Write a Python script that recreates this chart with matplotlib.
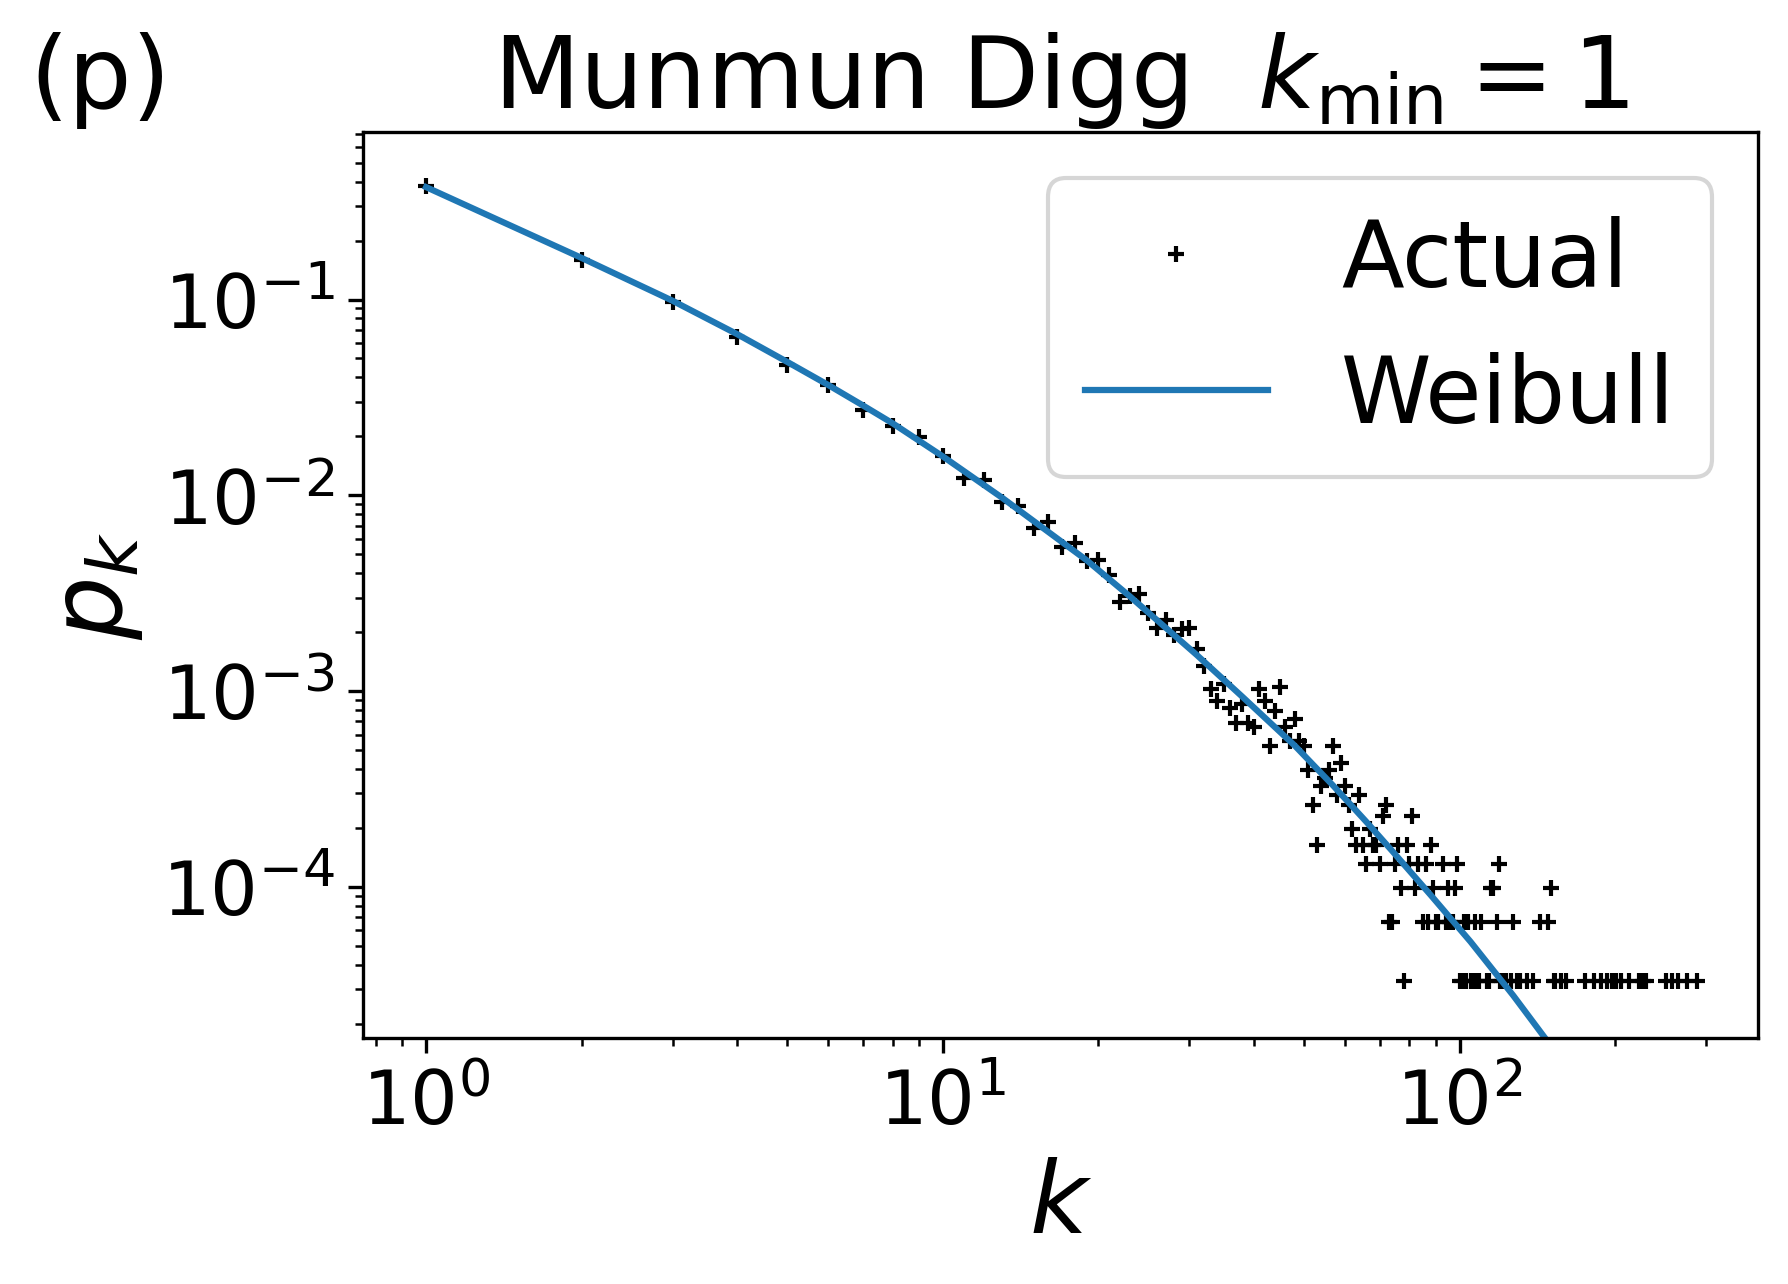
import matplotlib
matplotlib.use('Agg')
import matplotlib.pyplot as plt
import numpy as np

# number of nodes in the network (p_k = count / N)
N_NODES = 30398

degree = [1, 2, 3, 4, 5, 6, 7, 8, 9, 10,
          11, 12, 13, 14, 15, 16, 17, 18, 19, 20,
          21, 22, 23, 24, 25, 26, 27, 28, 29, 30,
          31, 32, 33, 34, 35, 36, 37, 38, 39, 40,
          41, 42, 43, 44, 45, 46, 47, 48, 49, 50,
          51, 52, 53, 54, 55, 56, 57, 58, 59, 60,
          61, 62, 63, 64, 65, 66, 67, 68, 69, 70,
          71, 72, 73, 74, 75, 76, 77, 78, 79, 80,
          81, 82, 83, 85, 86, 87, 88, 89, 90, 91,
          93, 94, 95, 96, 97, 98, 99, 100, 101, 102,
          103, 104, 105, 106, 107, 108, 109, 110, 113, 114,
          115, 116, 118, 119, 120, 121, 123, 126, 127, 129,
          131, 135, 139, 143, 148, 150, 152, 153, 157, 161,
          175, 182, 188, 193, 197, 201, 205, 213, 222, 226,
          230, 251, 258, 265, 275, 288]

count = [11550, 4864, 2943, 1961, 1413, 1116, 833, 690, 605, 480,
         372, 362, 282, 267, 207, 223, 166, 174, 141, 142,
         119, 87, 93, 95, 76, 64, 70, 59, 63, 64,
         50, 41, 31, 27, 33, 25, 21, 26, 21, 20,
         31, 27, 16, 24, 32, 20, 17, 22, 17, 16,
         12, 8, 5, 10, 11, 12, 16, 9, 13, 10,
         8, 6, 5, 9, 5, 4, 6, 5, 5, 4,
         7, 8, 2, 2, 4, 5, 3, 1, 5, 4,
         7, 3, 4, 2, 4, 2, 5, 3, 2, 2,
         4, 2, 3, 2, 2, 3, 4, 1, 1, 2,
         1, 2, 1, 1, 2, 1, 1, 2, 1, 1,
         3, 3, 2, 4, 1, 1, 1, 1, 2, 1,
         1, 1, 1, 2, 2, 3, 1, 1, 1, 1,
         1, 1, 1, 1, 1, 1, 1, 1, 1, 1,
         1, 1, 1, 1, 1, 1]

pk = np.array(count) / N_NODES

# Weibull fit
weibull_k = [1, 2, 3, 4, 5, 6, 7, 8, 10, 13, 19, 23, 31, 38, 48,
             57, 66, 74, 88, 105, 127, 150]
weibull_pk = [0.375, 0.163, 0.0985, 0.0665, 0.0480, 0.0366, 0.0288,
              0.0233, 0.0158, 0.00975, 0.00465, 0.00305, 0.00153,
              0.000935, 0.000526, 0.000328, 0.000215, 0.000153,
              0.0000906, 0.0000525, 0.0000279, 0.0000155]

fig = plt.figure(figsize=(5.96, 4.283), dpi=300)
ax = fig.add_axes([0.2032, 0.1918, 0.7800, 0.7044])

ax.plot(degree, pk, 'k+', ms=4, mew=1.0, label='Actual')
ax.plot(weibull_k, weibull_pk, '-', color='#1f77b4', lw=1.5, label='Weibull')

ax.set_xscale('log')
ax.set_yscale('log')
ax.set_xlim(0.756, 378)
ax.set_ylim(1.70e-5, 0.713)

ax.set_xlabel('$k$', fontsize=24)
ax.set_ylabel('$p_k$', fontsize=24)
ax.tick_params(axis='both', which='major', labelsize=18)
ax.set_title(r'Munmun Digg  $k_{\min}=1$', fontsize=24)
ax.legend(fontsize=22, loc='upper right')

fig.text(0.0165, 0.916, '(p)', fontsize=24, va='baseline', ha='left')

fig.savefig('out.png', dpi=300)
